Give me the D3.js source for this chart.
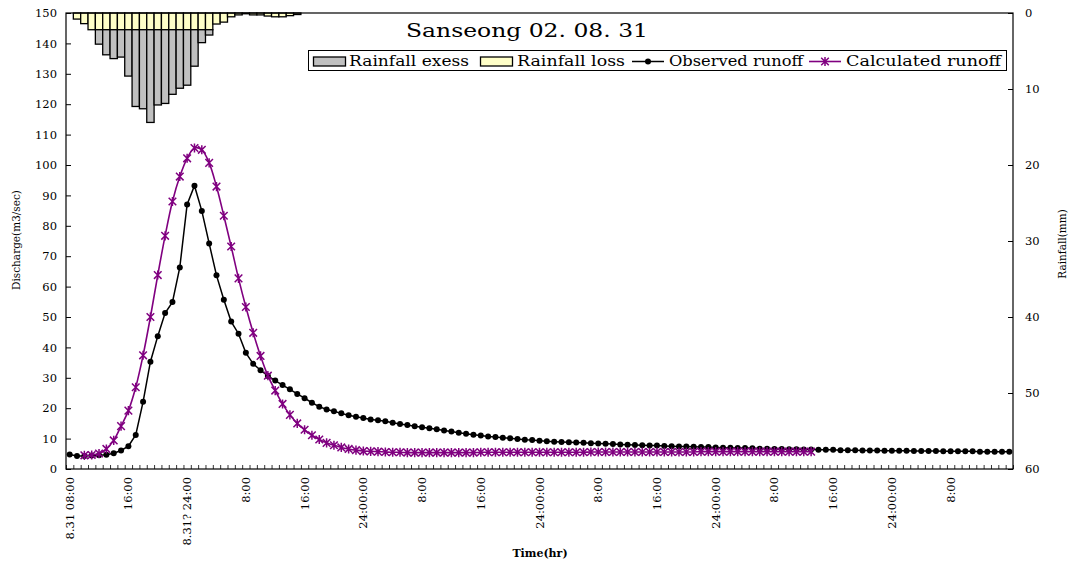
<!DOCTYPE html>
<html>
<head>
<meta charset="utf-8">
<script src="https://cdn.jsdelivr.net/npm/d3@7"></script>
<style>
  html, body { margin: 0; padding: 0; background: #fff; }
  svg { display: block; }
  text { font-family: "DejaVu Serif", "Liberation Serif", serif; fill: #000; }
</style>
</head>
<body>
<svg id="chart" width="1074" height="565"></svg>
<script>
// Hourly series, 8.31 08:00 onward (one value per hour)
const observedRunoff = [
  4.8, 4.3, 4.3, 4.4, 4.5, 4.7, 5.2, 6.1, 7.5, 11.2,
  22.1, 35.3, 43.7, 51.3, 54.9, 66.3, 87.0, 93.2, 84.9, 74.2,
  63.7, 55.7, 48.5, 44.5, 38.2, 34.6, 32.5, 30.6, 29.1, 27.6,
  26.2, 24.7, 23.3, 21.8, 20.5, 19.6, 19.0, 18.3, 17.7, 17.2,
  16.8, 16.3, 16.0, 15.7, 15.2, 14.8, 14.5, 14.1, 13.7, 13.4,
  13.1, 12.7, 12.3, 11.9, 11.6, 11.3, 11.0, 10.7, 10.5, 10.3,
  10.1, 9.9, 9.6, 9.5, 9.3, 9.1, 9.0, 8.9, 8.8, 8.7,
  8.6, 8.5, 8.4, 8.3, 8.2, 8.1, 8.0, 7.9, 7.8, 7.7,
  7.7, 7.6, 7.5, 7.4, 7.4, 7.3, 7.2, 7.2, 7.1, 7.0,
  7.0, 6.9, 6.9, 6.8, 6.7, 6.7, 6.6, 6.6, 6.5, 6.5,
  6.4, 6.4, 6.3, 6.3, 6.3, 6.2, 6.2, 6.2, 6.1, 6.1,
  6.1, 6.0, 6.0, 6.0, 6.0, 5.9, 5.9, 5.9, 5.9, 5.8,
  5.8, 5.8, 5.8, 5.8, 5.7, 5.7, 5.7, 5.7, 5.7
];

// Calculated runoff starts at hour index 2
const calcStart = 2;
const calculatedRunoff = [
  4.5, 4.6, 5.1, 6.6, 9.4, 14.1, 19.2, 26.9, 37.4, 50.0,
  63.8, 76.7, 88.0, 96.2, 102.2, 105.6, 105.0, 100.7, 92.9, 83.3,
  73.2, 62.7, 53.3, 44.8, 37.2, 30.7, 25.8, 21.4, 17.8, 15.0,
  12.9, 11.1, 9.7, 8.6, 7.8, 7.1, 6.6, 6.2, 5.9, 5.8,
  5.7, 5.6, 5.5, 5.5, 5.4, 5.4, 5.4, 5.4, 5.4, 5.4,
  5.4, 5.4, 5.4, 5.4, 5.5, 5.5, 5.5, 5.5, 5.5, 5.5,
  5.5, 5.5, 5.5, 5.5, 5.5, 5.5, 5.5, 5.5, 5.5, 5.6,
  5.6, 5.6, 5.6, 5.6, 5.6, 5.6, 5.6, 5.6, 5.6, 5.6,
  5.6, 5.6, 5.6, 5.6, 5.7, 5.7, 5.7, 5.7, 5.7, 5.7,
  5.7, 5.7, 5.7, 5.7, 5.7, 5.7, 5.7, 5.7, 5.7, 5.7
];

// Hourly rainfall (mm), same hour index as the runoff series
const rainfallLoss = [
  0, 0.8, 1.4, 2.2, 2.2, 2.2, 2.2, 2.2, 2.2, 2.2,
  2.2, 2.2, 2.2, 2.2, 2.2, 2.2, 2.2, 2.2, 2.2, 2.2,
  1.45, 1.2, 0.5, 0.25, 0.1, 0.25, 0.25, 0.4, 0.5, 0.5,
  0.35, 0.2
];
const rainfallExcess = [
  0, 0, 0, 0, 1.9, 3.3, 3.8, 3.6, 6.1, 10.1,
  10.4, 12.2, 9.9, 9.7, 8.5, 7.7, 7.3, 4.8, 1.7, 0.7,
  0, 0, 0, 0, 0, 0, 0, 0, 0, 0,
  0, 0
];

// Time axis labels, one every 8 hours
const timeLabels = [
  "8.31 08:00", "16:00", "8.31? 24:00", "8:00", "16:00", "24:00:00",
  "8:00", "16:00", "24:00:00", "8:00", "16:00", "24:00:00",
  "8:00", "16:00", "24:00:00", "8:00"
];
const labelStep = 8;

const dischargeTicks = d3.range(0, 151, 10);
const rainfallTicks = d3.range(0, 61, 10);

const svg = d3.select("#chart");
const L = 66, R = 1013, T = 13, B = 469;
const nHours = observedRunoff.length;

const x = d3.scaleBand().domain(d3.range(nHours)).range([L, R]).padding(0);
const xEdge = d3.scaleLinear().domain([0, nHours]).range([L, R]);
const cx = i => x(i) + x.bandwidth() / 2;
const yQ = d3.scaleLinear().domain([0, 150]).range([B, T]);
const yRain = d3.scaleLinear().domain([0, 60]).range([T, B]);

// Rainfall bars hanging from the top
const barG = svg.append("g");
rainfallLoss.forEach((loss, i) => {
  const exc = rainfallExcess[i];
  if (loss > 0) {
    barG.append("rect")
      .attr("x", x(i)).attr("width", x.bandwidth())
      .attr("y", yRain(0)).attr("height", yRain(loss) - yRain(0))
      .attr("fill", "#ffffc8").attr("stroke", "#000").attr("stroke-width", 1.3);
  }
  if (exc > 0) {
    barG.append("rect")
      .attr("x", x(i)).attr("width", x.bandwidth())
      .attr("y", yRain(loss)).attr("height", yRain(loss + exc) - yRain(loss))
      .attr("fill", "#c0c0c0").attr("stroke", "#000").attr("stroke-width", 1.3);
  }
});

// Plot frame
svg.append("rect").attr("x", L).attr("y", T).attr("width", R - L).attr("height", B - T)
  .attr("fill", "none").attr("stroke", "#000").attr("stroke-width", 1.2);

// Left axis (discharge)
const axL = svg.append("g").attr("transform", `translate(${L},0)`)
  .call(d3.axisLeft(yQ).tickValues(dischargeTicks).tickSize(-5).tickPadding(9));
axL.select(".domain").remove();
axL.selectAll("text").style("font-size", "11.5px").style("font-family", "DejaVu Serif");

// Right axis (rainfall)
const axR = svg.append("g").attr("transform", `translate(${R},0)`)
  .call(d3.axisRight(yRain).tickValues(rainfallTicks).tickSize(-5).tickPadding(12));
axR.select(".domain").remove();
axR.selectAll("text").style("font-size", "11.5px").style("font-family", "DejaVu Serif");

// Bottom axis: hour ticks at category boundaries
const axB = svg.append("g").attr("transform", `translate(0,${B})`)
  .call(d3.axisBottom(xEdge).tickValues(d3.range(0, nHours + 1)).tickSize(-4).tickFormat(""));
axB.select(".domain").remove();
axB.selectAll("line").attr("stroke-width", 0.8);

// Rotated time labels
svg.append("g").selectAll("text").data(timeLabels).join("text")
  .attr("transform", (d, k) => `translate(${cx(k * labelStep)},${B + 8}) rotate(-90)`)
  .attr("text-anchor", "end").attr("dy", "0.35em")
  .style("font-size", "11.5px")
  .text(d => d);

// Observed runoff line
const lineObs = d3.line().x((d, i) => cx(i)).y(d => yQ(d));
svg.append("path").datum(observedRunoff).attr("d", lineObs)
  .attr("fill", "none").attr("stroke", "#000").attr("stroke-width", 1.5);
svg.append("g").selectAll("circle").data(observedRunoff).join("circle")
  .attr("cx", (d, i) => cx(i)).attr("cy", d => yQ(d)).attr("r", 3).attr("fill", "#000");

// Calculated runoff (smoothed) with star markers
const purple = "#800080";
const lineCalc = d3.line().x((d, i) => cx(i + calcStart)).y(d => yQ(d)).curve(d3.curveCatmullRom.alpha(0.5));
svg.append("path").datum(calculatedRunoff).attr("d", lineCalc)
  .attr("fill", "none").attr("stroke", purple).attr("stroke-width", 1.6);
const star = (g, px, py, s) => {
  g.append("path")
    .attr("d", `M${px - s},${py - s}L${px + s},${py + s}M${px - s},${py + s}L${px + s},${py - s}M${px},${py - s * 1.2}L${px},${py + s * 1.2}`)
    .attr("stroke", purple).attr("stroke-width", 1.5).attr("fill", "none");
};
const starG = svg.append("g");
calculatedRunoff.forEach((v, i) => star(starG, cx(i + calcStart), yQ(v), 3.8));

// Title
svg.append("text").attr("x", 406).attr("y", 37)
  .attr("textLength", 242).attr("lengthAdjust", "spacingAndGlyphs")
  .style("font-size", "19px").text("Sanseong 02. 08. 31");

// Legend
const lg = svg.append("g");
lg.append("rect").attr("x", 308.5).attr("y", 50.5).attr("width", 698).attr("height", 20)
  .attr("fill", "#fff").attr("stroke", "#000").attr("stroke-width", 1);
lg.append("rect").attr("x", 313.5).attr("y", 57).attr("width", 32).attr("height", 9)
  .attr("fill", "#c0c0c0").attr("stroke", "#000").attr("stroke-width", 1.3);
lg.append("rect").attr("x", 480.5).attr("y", 57).attr("width", 32).attr("height", 9)
  .attr("fill", "#ffffc8").attr("stroke", "#000").attr("stroke-width", 1.3);
lg.append("line").attr("x1", 632).attr("x2", 664).attr("y1", 61.5).attr("y2", 61.5)
  .attr("stroke", "#000").attr("stroke-width", 1.5);
lg.append("circle").attr("cx", 648).attr("cy", 61.5).attr("r", 3).attr("fill", "#000");
lg.append("line").attr("x1", 809).attr("x2", 841).attr("y1", 61.5).attr("y2", 61.5)
  .attr("stroke", purple).attr("stroke-width", 1.6);
star(lg, 825, 61.5, 3.8);
const legendItems = [
  { text: "Rainfall exess", x: 349, w: 120 },
  { text: "Rainfall loss", x: 517, w: 108 },
  { text: "Observed runoff", x: 669, w: 134 },
  { text: "Calculated runoff", x: 846, w: 155 }
];
lg.selectAll("text.lt").data(legendItems).join("text").attr("class", "lt")
  .attr("x", d => d.x).attr("y", 66)
  .attr("textLength", d => d.w).attr("lengthAdjust", "spacingAndGlyphs")
  .style("font-size", "14px").text(d => d.text);

// Axis titles
svg.append("text").attr("transform", "translate(20,240) rotate(-90)")
  .attr("text-anchor", "middle").style("font-size", "10.5px").text("Discharge(m3/sec)");
svg.append("text").attr("transform", "translate(1066,244) rotate(-90)")
  .attr("text-anchor", "middle").style("font-size", "10.5px").text("Rainfall(mm)");
svg.append("text").attr("x", 540).attr("y", 557)
  .attr("text-anchor", "middle").style("font-size", "11px").style("font-weight", "bold").text("Time(hr)");
</script>
</body>
</html>
